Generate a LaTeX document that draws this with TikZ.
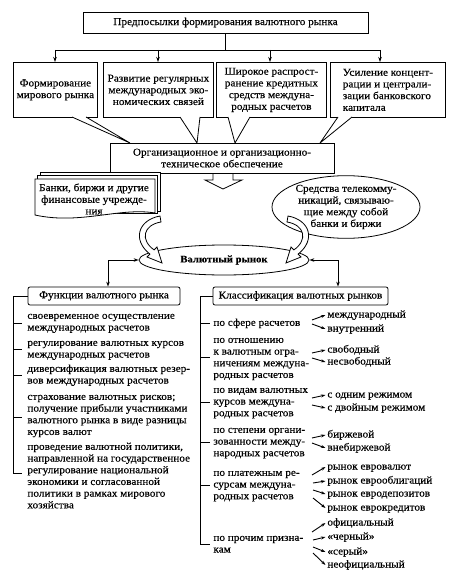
\documentclass[tikz,border=0pt]{standalone}
\usepackage{fontspec}
\setmainfont[FakeStretch=1.07,FakeBold=0.25]{Liberation Serif}
\usetikzlibrary{arrows.meta,shapes.geometric}
\newcommand\myfs{\fontsize{10.5}{11.7}\selectfont}
\begin{document}
\begin{tikzpicture}[x=1pt,y=-1pt, line width=0.8pt,
  box/.style={draw, fill=white, font=\myfs, align=center, inner sep=1pt},
  txt/.style={font=\myfs, align=left, inner sep=0pt, anchor=north west},
  optn/.style={font=\myfs, inner xsep=1.5pt, inner ysep=0pt, anchor=west, text height=7pt, text depth=2pt},
  arr/.style={-{Stealth[length=5pt,width=3.5pt]}},
  oarr/.style={-{Stealth[length=4.5pt,width=3pt]}, line width=0.9pt},
  dbl/.style={{Stealth[length=5pt,width=3.5pt]}-{Stealth[length=5pt,width=3.5pt]}},
  hollow/.style={draw, fill=white, line join=miter},
]
\useasboundingbox (0,0) rectangle (458,572);

% top
\node[box, minimum width=285, minimum height=21] (top) at (225.5,22.5) {Предпосылки формирования валютного рынка};
\coordinate (bus0) at (225.5,50);
\coordinate (bus1) at (55,50);
\coordinate (bus2) at (158,50);
\coordinate (bus3) at (270,50);
\coordinate (bus4) at (380,50);

\node[box, minimum width=84, minimum height=55, anchor=north west] (b1) at (13,62) {Формирование\\мирового рынка};
\node[box, minimum width=110, minimum height=55, anchor=north west] (b2) at (103,62) {Развитие регулярных\\международных эко-\\номических связей};
\node[box, minimum width=110, minimum height=55, anchor=north west] (b3) at (216,62) {Широкое распрост-\\ранение кредитных\\средств междуна-\\родных расчетов};
\node[box, minimum width=115, minimum height=55, anchor=north west, align=left] (b4) at (330,62) {Усиление концент-\\рации и централи-\\зации банковского\\капитала};

\draw (top.south) -- (bus0);
\draw (bus1) -- (bus4);
\foreach \i in {1,...,4} \draw[arr] (bus\i) -- (bus\i |- b\i.north);

% callout tails
\foreach \a/\b/\c in {72/86/130, 180/200/197, 228/250/235, 338/352/320} {
  \fill[white] (\a+0.7,115.3) rectangle (\b-0.7,117.9);
  \fill[white] (\a,117) -- (\c,143) -- (\b,117) -- cycle;
  \draw (\a,117) -- (\c,143) -- (\b,117);
}

% hollow arrow under org box
\draw[hollow] (213,173) -- (213,180) -- (205,180) -- (223,189) -- (242,180) -- (233,180) -- (233,173);
\node[box, minimum width=224, minimum height=30] (org) at (222,158) {Организационное и организационно-\\техническое обеспечение};

% stacked documents
\draw[hollow] (40,172) rectangle (160,211);
\draw[hollow] (37.5,175.5) rectangle (157.5,213);
\draw[hollow] (35,179) -- (155,179) -- (155,213) .. controls (120,207) and (80,225) .. (35,215) -- cycle;
\node[font=\myfs, align=center, inner sep=0pt] (banks) at (94,199) {Банки, биржи и другие\\финансовые учрежде-\\ния};

% telecom ellipse
\node[draw, fill=white, ellipse, minimum width=148, minimum height=60, inner sep=0pt, align=center, font=\myfs] (tel) at (346,207) {Средства телекомму-\\никаций, связываю-\\щие между собой\\банки и биржи};

% currency market
\node[draw, fill=white, ellipse, minimum width=170, minimum height=30, inner sep=0pt, font=\fontsize{10}{12}\selectfont\bfseries] (vr) at (224,260) {Валютный рынок};

% curved hollow arrows
\draw[hollow] (160,216) .. controls (138,220) and (132,240) .. (149.9,254.1) -- (147,257) -- (162,263) -- (157,247) -- (154.1,249.9) .. controls (140,240) and (143,225) .. (161,222) -- cycle;
\draw[hollow] (288,216) .. controls (310,220) and (316,240) .. (298.1,254.1) -- (301,257) -- (286,263) -- (291,247) -- (293.9,249.9) .. controls (308,240) and (305,225) .. (287,222) -- cycle;

% lower boxes
\node[box, rounded corners=2pt, minimum width=152, minimum height=18] (fb) at (104,296) {Функции валютного рынка};
\node[box, rounded corners=2pt, minimum width=175, minimum height=18] (kl) at (300.5,296) {Классификация валютных рынков};

\coordinate (lc) at (108,260);
\coordinate (rc) at (338,260);
\draw[dbl] (vr.west) -- (lc) -- (lc |- fb.north);
\draw[dbl] (vr.east) -- (rc) -- (rc |- kl.north);

% left column
\node[txt] (f1) at (27,316-5.75) {\strut своевременное осуществление\\международных расчетов};
\node[txt] (f2) at (27,343-5.75) {\strut регулирование валютных курсов\\международных расчетов};
\node[txt] (f3) at (27,369-5.75) {\strut диверсификация валютных резер-\\вов международных расчетов};
\node[txt] (f4) at (27,397-5.75) {\strut страхование валютных рисков;\\получение прибыли участниками\\валютного рынка в виде разницы\\курсов валют};
\node[txt] (f5) at (27,447-5.75) {\strut проведение валютной политики,\\направленной на государственное\\регулирование национальной\\экономики и согласованной\\политики в рамках мирового\\хозяйства};
\draw (fb.west) -- (13,296) -- (13,473) -- (22,473);
\foreach \y in {323,349,375,417} \draw (13,\y) -- (22,\y);

% right column
\node[txt] (k1) at (213,323-5.75) {\strut по сфере расчетов};
\node[txt] (k2) at (213,340-5.75) {\strut по отношению\\к валютным огра-\\ничениям междуна-\\родных расчетов};
\node[txt] (k3) at (213,390-5.75) {\strut по видам валютных\\курсов междуна-\\родных расчетов};
\node[txt] (k4) at (213,430-5.75) {\strut по степени органи-\\зованности между-\\народных расчетов};
\node[txt] (k5) at (213,473-5.75) {\strut по платежным ре-\\сурсам междуна-\\родных расчетов};
\node[txt] (k6) at (213,538-5.75) {\strut по прочим призна-\\кам};
\draw (kl.west) -- (200,296) -- (200,544) -- (210,544);
\foreach \y in {323,357,402,442,485} \draw (200,\y) -- (210,\y);

% options
\foreach \n/\tx/\ty/\oy/\t in {
  11/312/320/315/международный, 12/312/324/329/внутренний,
  21/312/353/350/свободный, 22/312/358/362/несвободный,
  31/312/398/395/с одним режимом, 32/312/405/408/с двойным режимом,
  41/312/438/435/биржевой, 42/312/443/448/внебиржевой,
  51/312/475/467/рынок евровалют, 52/313/483/481/рынок еврооблигаций,
  53/313/490/494/рынок евродепозитов, 54/313/498/508/рынок еврокредитов,
  61/312/532/523/официальный, 62/313/540/537/«черный»,
  63/313/547/552/«серый», 64/313/553/565/неофициальный} {
  \coordinate (a\n) at (\tx,\ty);
  \node[optn] (o\n) at (325.5,\oy) {\t};
  \draw[oarr] (a\n) -- (o\n.west);
}
\end{tikzpicture}
\end{document}
